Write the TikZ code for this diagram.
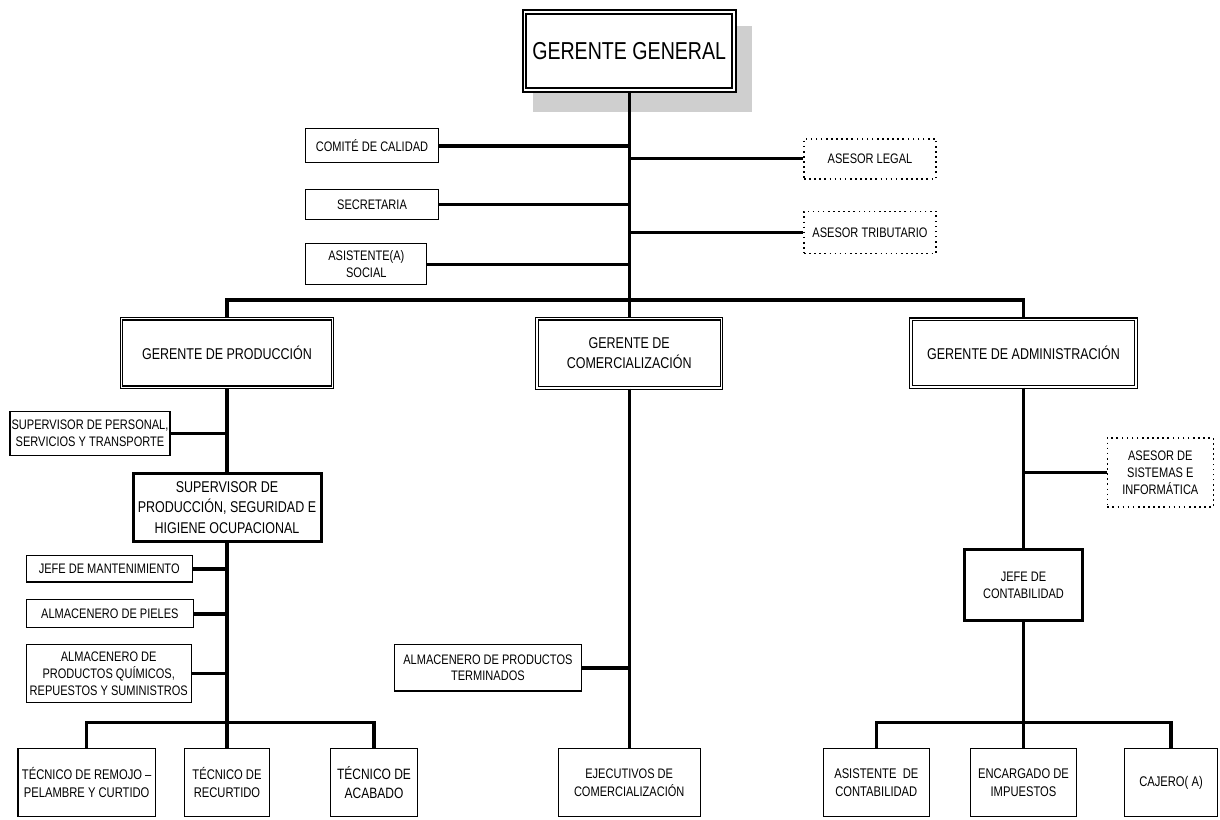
\documentclass[tikz,border=0pt]{standalone}
\usepackage{fontspec}
\setmainfont{Liberation Sans}[FakeStretch=0.8]
\usetikzlibrary{backgrounds}
\begin{document}
\begin{tikzpicture}[x=1pt,y=-1pt,
  sz/.style 2 args={minimum width=#1pt, minimum height=#2pt},
  box/.style={draw, line width=1.3pt, fill=white, align=center, inner sep=0pt,
    font=\fontsize{13.8}{16.8}\selectfont},
  mgr/.style={box, double=white, double distance=1.5pt, line width=1.2pt,
    font=\fontsize{15.6}{19.5}\selectfont},
  heavy/.style={box, line width=3pt},
  advisor/.style={box, line width=1.6pt, dash pattern=on 1.6pt off 3.5pt},
  bottom/.style={box, font=\fontsize{14}{18.5}\selectfont},
  link/.style={line width=3.4pt, line join=miter},
]
\useasboundingbox (0,0) rectangle (1220,819);

% top of the chart
\node[box, double=white, double distance=1.7pt, line width=1.8pt, sz={209.7}{78},
  font=\fontsize{24.5}{28}\selectfont] (gg) at (629.2,51) {GERENTE GENERAL};
\begin{scope}[on background layer]
  \fill[gray!38] ([xshift=9.7pt,yshift=-14.7pt]gg.north west)
    rectangle ([xshift=16.7pt,yshift=-21pt]gg.south east);
\end{scope}

% staff units beside the general manager
\node[box, sz={133}{34}]   (cc)   at (372,145.8)   {COMITÉ DE CALIDAD};
\node[box, sz={133}{30}]   (sec)  at (372,204.7)   {SECRETARIA};
\node[box, sz={121}{41}]   (asoc) at (366.3,264.2) {ASISTENTE(A)\\SOCIAL};
\node[advisor, sz={132}{40}] (alegal) at (870,158.7) {ASESOR LEGAL};
\node[advisor, sz={132}{42}] (atrib)  at (870,232.3) {ASESOR TRIBUTARIO};

% managers
\node[mgr, sz={211}{68.7}]   (gp) at (227,353)    {GERENTE DE PRODUCCIÓN};
\node[mgr, sz={184.5}{69.4}] (gc) at (629.2,353.3) {GERENTE DE\\COMERCIALIZACIÓN};
\node[mgr, sz={225}{67.8}]   (ga) at (1023.5,353.2) {GERENTE DE ADMINISTRACIÓN};

% production branch
\node[box, sz={160}{44}] (sper) at (90,433.3) {SUPERVISOR DE PERSONAL,\\SERVICIOS Y TRANSPORTE};
\node[heavy, sz={188}{68.5}, font=\fontsize{15.6}{20.5}\selectfont] (sprod) at (227,507.5)
  {SUPERVISOR DE\\PRODUCCIÓN, SEGURIDAD E\\HIGIENE OCUPACIONAL};
\node[box, sz={166}{26.5}] (jman)  at (109.2,568.8) {JEFE DE MANTENIMIENTO};
\node[box, sz={167}{28}]   (apiel) at (109.9,613.8) {ALMACENERO DE PIELES};
\node[box, sz={165}{58}]   (aquim) at (108.7,673.7)
  {ALMACENERO DE\\PRODUCTOS QUÍMICOS,\\REPUESTOS Y SUMINISTROS};
\node[bottom, sz={137.5}{68}] (tremojo) at (86.7,782.5) {TÉCNICO DE REMOJO –\\PELAMBRE Y CURTIDO};
\node[bottom, sz={85.5}{68}]  (trecur)  at (227,782.5)  {TÉCNICO DE\\RECURTIDO};
\node[bottom, sz={87}{68}, font=\fontsize{15}{19.5}\selectfont] (tacab) at (374,782.5) {TÉCNICO DE\\ACABADO};

% commercial branch
\node[box, sz={186.5}{46.5}] (aterm) at (487.9,667.8) {ALMACENERO DE PRODUCTOS\\TERMINADOS};
\node[box, sz={142}{68}, font=\fontsize{13.8}{18}\selectfont] (ejec) at (629.2,782.5) {EJECUTIVOS DE\\COMERCIALIZACIÓN};

% administration branch
\node[advisor, sz={106}{69}] (asis) at (1160.3,472.5) {ASESOR DE\\SISTEMAS E\\INFORMÁTICA};
\node[heavy, sz={118.6}{70.4}] (jcont) at (1023.5,585) {JEFE DE\\CONTABILIDAD};
\node[bottom, sz={106}{68}]  (asiscont) at (876.3,782.5) {ASISTENTE \ DE\\CONTABILIDAD};
\node[bottom, sz={105.5}{68}] (enc) at (1023.5,782.5) {ENCARGADO DE\\IMPUESTOS};
\node[bottom, sz={93}{68}]    (caj) at (1171,782.5)   {CAJERO( A)};

% junction points of the horizontal bars
\coordinate (topbar) at (629.2,300);
\coordinate (lbar) at (227,722.7);
\coordinate (rbar) at (1023.5,722.3);

% connectors
\draw[link] (gg.south) -- (gc.north);
\draw[link] (gp.north) |- (topbar) -| (ga.north);
\foreach \n in {cc,sec,asoc}
  \draw[link] (\n.east) -- (\n.east -| gg.south);
\foreach \n in {alegal,atrib}
  \draw[link] (\n.west) -- (\n.west -| gg.south);

\draw[link] (gp.south) -- (sprod.north);
\draw[link] (sper.east) -- (sper.east -| gp.south);
\draw[link] (sprod.south) -- (trecur.north);
\foreach \n in {jman,apiel,aquim}
  \draw[link] (\n.east) -- (\n.east -| sprod.south);
\draw[link] (tremojo.north) |- (lbar) -| (tacab.north);

\draw[link] (gc.south) -- (ejec.north);
\draw[link] (aterm.east) -- (aterm.east -| gc.south);

\draw[link] (ga.south) -- (jcont.north);
\draw[link] (asis.west) -- (asis.west -| ga.south);
\draw[link] (jcont.south) -- (enc.north);
\draw[link] (asiscont.north) |- (rbar) -| (caj.north);
\end{tikzpicture}
\end{document}
